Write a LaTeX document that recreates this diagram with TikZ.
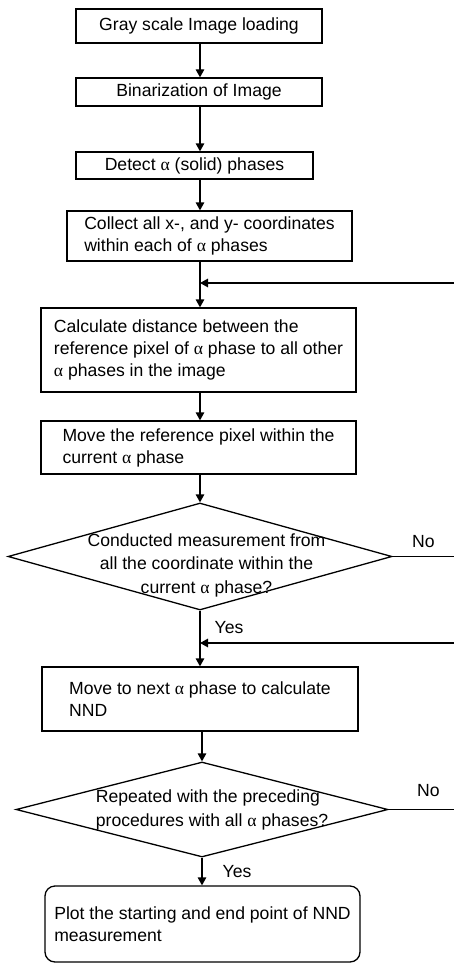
\documentclass[tikz,border=0pt]{standalone}
\usepackage{fontspec}
\setmainfont{Liberation Sans}
\newfontfamily\greekfont{Liberation Serif}
\newcommand{\alp}{{\greekfont α}}
\usetikzlibrary{shapes.geometric, arrows.meta, positioning, calc}

\begin{document}
\begin{tikzpicture}[
  x=1pt, y=-1pt,
  font=\fontsize{17.6}{22}\selectfont,
  stepbox/.style={draw, line width=1.3pt, inner sep=0pt, align=left},
  endbox/.style={stepbox, rounded corners=10pt},
  decision/.style={diamond, draw, line width=1.3pt, inner sep=0pt},
  dtext/.style={font=\fontsize{17.6}{23.5}\selectfont, inner sep=0pt},
  lab/.style={inner sep=2pt},
  arr/.style={-{Triangle[length=8pt,width=8.5pt]}, line width=1.3pt},
  every path/.style={line width=1.3pt},
]
\useasboundingbox (0,0) rectangle (454,963);

% preprocessing
\node[stepbox, align=center, minimum width=246, minimum height=34] (load) at (199,26) {Gray scale Image loading};
\node[stepbox, align=center, minimum width=246, minimum height=28] (binar) at (199,92) {Binarization of Image};
\node[stepbox, align=center, minimum width=237, minimum height=27] (detect) at (194.5,165.5) {Detect \alp{} (solid) phases};
\node[stepbox, minimum width=285, minimum height=50] (collect) at (209.5,236) {Collect all x-, and y- coordinates\\within each of \alp{} phases};

% inner loop
\node[stepbox, minimum width=315, minimum height=84] (dist) at (198.5,350) {Calculate distance between the\\reference pixel of \alp{} phase to all other\\\alp{} phases in the image};
\node[stepbox, minimum width=315, minimum height=53] (movepx) at (198.5,447.5) {Move the reference pixel within the\\current \alp{} phase};
\node[decision, minimum width=384, minimum height=107] (allcoord) at (200,556.5) {};
\node[dtext, align=center] (allcoordtxt) at (206.5,565) {Conducted measurement from\\all the coordinate within the\\current \alp{} phase?};

% outer loop
\node[stepbox, minimum width=316, minimum height=64] (nextph) at (200,699) {Move to next \alp{} phase to calculate\\NND};
\node[decision, minimum width=372, minimum height=95] (allph) at (202,809.5) {};
\node[dtext, align=left] (allphtxt) at (212,810) {Repeated with the preceding\\procedures with all \alp{} phases?};

% result
\node[endbox, minimum width=315, minimum height=76] (plot) at (202.5,924) {Plot the starting and end point of NND\\measurement};

% loop ends at the right margin
\coordinate (loop1) at (200,283);
\coordinate (ret1) at (454,283);
\coordinate (loop2) at (200,643);
\coordinate (ret2) at (454,643);
\coordinate (no1) at (454,556.5);
\coordinate (no2) at (454,809.5);

% Edges
\draw[arr] (load.south -| allcoord) -- (binar.north -| allcoord);
\draw[arr] (binar.south -| allcoord) -- (detect.north -| allcoord);
\draw[arr] (detect.south -| allcoord) -- (collect.north -| allcoord);
\draw[arr] (collect.south -| allcoord) -- (dist.north -| allcoord);
\draw[arr] (ret1) -- (loop1);
\draw[arr] (dist.south -| allcoord) -- (movepx.north -| allcoord);
\draw[arr] (movepx.south -| allcoord) -- (allcoord.north);
\draw (allcoord.east) -- node[lab, above=6pt] {No} (no1);
\draw[arr] (allcoord.south) -- node[lab, right=12pt, pos=0.3] {Yes} (nextph.north -| allcoord);
\draw[arr] (ret2) -- (loop2);
\draw[arr] (nextph.south -| allph) -- (allph.north);
\draw (allph.east) -- node[lab, above=10pt, xshift=7pt] {No} (no2);
\draw[arr] (allph.south) -- node[lab, right=18pt] {Yes} (plot.north -| allph);

\end{tikzpicture}
\end{document}
